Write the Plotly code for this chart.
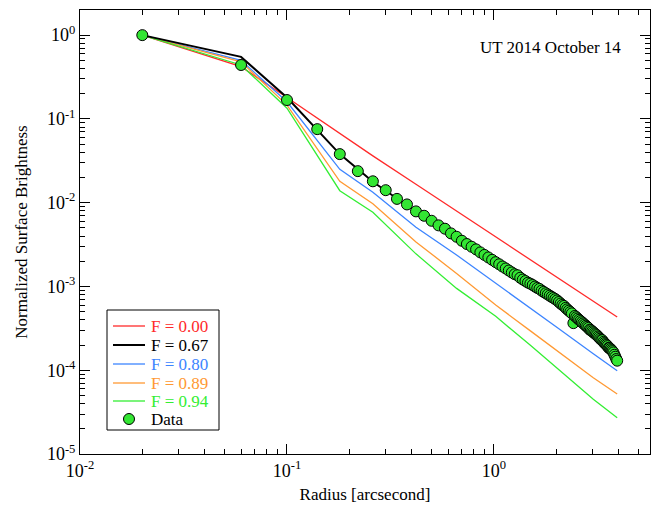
import plotly.graph_objects as go

# radii of the model curves [arcsec]
model_r = [0.02, 0.06, 0.10, 0.18, 0.26, 0.42, 0.66, 1.02, 1.50, 2.02, 3.02, 3.94]

# model profiles for different F values
f000 = [1.0, 0.42, 0.18, 0.0661, 0.0362, 0.0166, 0.00793, 0.00391, 0.00208, 0.00129, 0.000665, 0.000431]
f067 = [1.0, 0.55, 0.18, 0.038, 0.0178, 0.0078, 0.0039, 0.00195, 0.00108, 0.00068, 0.000284, 0.000135]
f080 = [1.0, 0.50, 0.16, 0.025, 0.0133, 0.0051, 0.00237, 0.0011, 0.000554, 0.000324, 0.000157, 0.0000985]
f089 = [1.0, 0.48, 0.146, 0.018, 0.0097, 0.0034, 0.00143, 0.0006, 0.000295, 0.000171, 0.0000815, 0.000052]
f094 = [1.0, 0.44, 0.134, 0.0139, 0.0077, 0.00245, 0.000948, 0.00044, 0.000198, 0.000106, 0.000045, 0.000027]

# observed profile
data_r = [
    0.02, 0.06, 0.10, 0.14, 0.18, 0.22, 0.26, 0.30, 0.34, 0.38,
    0.42, 0.46, 0.50, 0.54, 0.58, 0.62, 0.66, 0.70, 0.74, 0.78,
    0.82, 0.86, 0.90, 0.94, 0.98, 1.02, 1.06, 1.10, 1.14, 1.18,
    1.22, 1.26, 1.30, 1.34, 1.38, 1.42, 1.46, 1.50, 1.54, 1.58,
    1.62, 1.66, 1.70, 1.74, 1.78, 1.82, 1.86, 1.90, 1.94, 1.98,
    2.02, 2.06, 2.10, 2.14, 2.18, 2.22, 2.26, 2.30, 2.34, 2.38,
    2.42, 2.46, 2.50, 2.54, 2.58, 2.62, 2.66, 2.70, 2.74, 2.78,
    2.82, 2.86, 2.90, 2.94, 2.98, 3.02, 3.06, 3.10, 3.14, 3.18,
    3.22, 3.26, 3.30, 3.34, 3.38, 3.42, 3.46, 3.50, 3.54, 3.58,
    3.62, 3.66, 3.70, 3.74, 3.78, 3.82, 3.86, 3.90, 3.94,
]
data_v = [
    1.0, 0.44, 0.168, 0.0755, 0.0380, 0.0238, 0.0180, 0.0141, 0.0111, 0.00953,
    0.00787, 0.00698, 0.00608, 0.00536, 0.00489, 0.00430, 0.00392, 0.00351, 0.00321, 0.00298,
    0.00277, 0.00255, 0.00238, 0.00222, 0.00208, 0.00195, 0.00184, 0.00173, 0.00164, 0.00155,
    0.00147, 0.00140, 0.00136, 0.00127, 0.00121, 0.00116, 0.00111, 0.00108, 0.00104, 0.000998,
    0.000960, 0.000935, 0.000891, 0.000861, 0.000830, 0.000802, 0.000776, 0.000751, 0.000728, 0.000705,
    0.000681, 0.000652, 0.000625, 0.000601, 0.000585, 0.000555, 0.000533, 0.000514, 0.000495, 0.000477,
    0.000365, 0.000444, 0.000429, 0.000414, 0.000400, 0.000387, 0.000374, 0.000362, 0.000351, 0.000340,
    0.000330, 0.000320, 0.000305, 0.000301, 0.000292, 0.000284, 0.000276, 0.000269, 0.000262, 0.000253,
    0.000246, 0.000238, 0.000231, 0.000228, 0.000218, 0.000211, 0.000205, 0.000200, 0.000194, 0.000185,
    0.000184, 0.000179, 0.000174, 0.000169, 0.000163, 0.000153, 0.000145, 0.000136, 0.000130,
]

x_tickvals = [0.01, 0.1, 1]
x_ticktext = ["10<sup>-2</sup>", "10<sup>-1</sup>", "10<sup>0</sup>"]
y_tickvals = [1e-5, 1e-4, 1e-3, 1e-2, 1e-1, 1]
y_ticktext = ["10<sup>-5</sup>", "10<sup>-4</sup>", "10<sup>-3</sup>",
              "10<sup>-2</sup>", "10<sup>-1</sup>", "10<sup>0</sup>"]

legend_labels = ["F = 0.00", "F = 0.67", "F = 0.80", "F = 0.89", "F = 0.94"]
legend_colors = ["#ff2a2a", "#000000", "#3d85ff", "#ff9933", "#33ee33"]
legend_widths = [1.3, 2.0, 1.3, 1.3, 1.3]

FONT = "Liberation Serif, Times New Roman, serif"
MARKER_GREEN = "#33e633"

# plot area in page pixels (the page body adds an 8px offset)
PX0, PX1, PY0, PY1 = 80, 650, 10, 454


def px(x):
    return (x - PX0) / (PX1 - PX0)


def py(y):
    return (PY1 - y) / (PY1 - PY0)


fig = go.Figure()
# draw coloured models first, black on top
for i in [0, 2, 3, 4, 1]:
    vals = [f000, f067, f080, f089, f094][i]
    fig.add_trace(go.Scatter(
        x=model_r, y=vals, mode="lines",
        line=dict(color=legend_colors[i], width=legend_widths[i]),
        name=legend_labels[i], showlegend=False,
    ))

fig.add_trace(go.Scatter(
    x=data_r, y=data_v, mode="markers", name="Data", showlegend=False,
    marker=dict(size=11, color=MARKER_GREEN, line=dict(color="#000000", width=1)),
))

# hand-drawn legend box (Igor-style, tight row spacing)
shapes = [dict(type="rect", xref="paper", yref="paper",
               x0=px(107), x1=px(219), y0=py(430), y1=py(310),
               line=dict(color="black", width=1), fillcolor="white", layer="above")]
annotations = []
row_y = [326, 345, 364, 383, 401, 419]
for i, lab in enumerate(legend_labels):
    shapes.append(dict(type="line", xref="paper", yref="paper",
                       x0=px(113), x1=px(145), y0=py(row_y[i]), y1=py(row_y[i]),
                       line=dict(color=legend_colors[i], width=legend_widths[i]), layer="above"))
    annotations.append(dict(text=lab, x=px(149), y=py(row_y[i]), xref="paper", yref="paper",
                            xanchor="left", yanchor="middle", showarrow=False,
                            font=dict(family=FONT, size=17, color=legend_colors[i])))
shapes.append(dict(type="circle", xref="paper", yref="paper",
                   xsizemode="pixel", ysizemode="pixel",
                   xanchor=px(129), yanchor=py(row_y[5]), x0=-5.5, x1=5.5, y0=-5.5, y1=5.5,
                   fillcolor=MARKER_GREEN, line=dict(color="black", width=1), layer="above"))
annotations.append(dict(text="Data", x=px(149), y=py(row_y[5]), xref="paper", yref="paper",
                        xanchor="left", yanchor="middle", showarrow=False,
                        font=dict(family=FONT, size=17, color="black")))

annotations.append(dict(text="UT 2014 October 14", x=px(623), y=py(47), xref="paper", yref="paper",
                        xanchor="right", yanchor="middle", showarrow=False,
                        font=dict(family=FONT, size=17, color="black")))

axis_common = dict(
    type="log", showgrid=False, zeroline=False, automargin=False,
    showline=True, linecolor="black", linewidth=1, mirror="ticks",
    ticks="inside", ticklen=10, tickcolor="black",
    minor=dict(ticks="inside", ticklen=5, tickcolor="black", dtick="D1", showgrid=False),
    tickfont=dict(family=FONT, size=18, color="black"),
)

fig.update_layout(
    width=655, height=498,
    margin=dict(l=PX0 - 8, r=663 - PX1, t=PY0 - 8, b=506 - PY1),
    paper_bgcolor="white", plot_bgcolor="white",
    font=dict(family=FONT, color="black"),
    xaxis=dict(axis_common, range=[-2, 0.754], tickvals=x_tickvals, ticktext=x_ticktext,
               title=dict(text="Radius [arcsecond]", font=dict(family=FONT, size=17), standoff=8)),
    yaxis=dict(axis_common, range=[-5, 0.3], tickvals=y_tickvals, ticktext=y_ticktext,
               title=dict(text="Normalized Surface Brightness", font=dict(family=FONT, size=17), standoff=14)),
    showlegend=False,
    shapes=shapes,
    annotations=annotations,
)

fig.write_html("out.html")
